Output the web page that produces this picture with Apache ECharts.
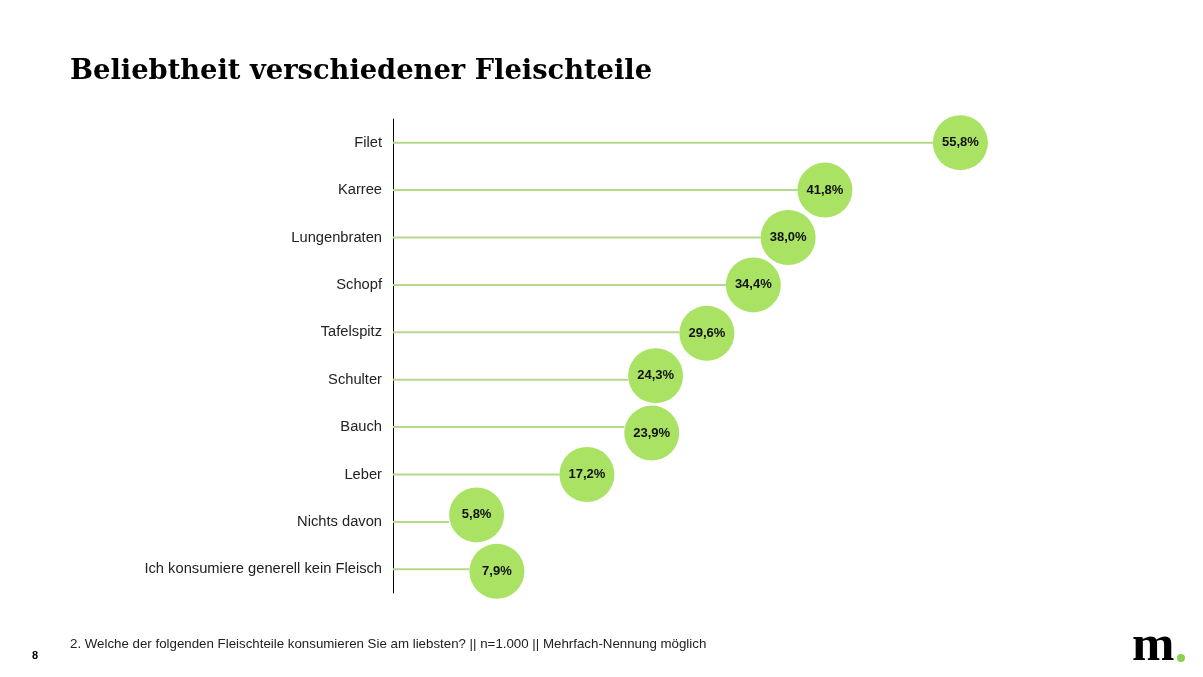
<!DOCTYPE html>
<html><head><meta charset="utf-8">
<script src="https://cdn.jsdelivr.net/npm/echarts@6/dist/echarts.min.js"></script>
<style>html,body{margin:0;padding:0;background:#fff}#c{width:1203px;height:677px}</style>
</head><body><div id="c"></div>
<script>
const categories = ['Filet','Karree','Lungenbraten','Schopf','Tafelspitz','Schulter','Bauch','Leber','Nichts davon','Ich konsumiere generell kein Fleisch'];
const values = [55.8, 41.8, 38.0, 34.4, 29.6, 24.3, 23.9, 17.2, 5.8, 7.9];
const bubbleShiftY = [0, 0, 0, 0, 1, -4, 6, 0, -7, 2];

const chart = echarts.init(document.getElementById('c'), null, {renderer:'canvas'});
const fmt = v => v.toFixed(1).replace('.', ',') + '%';
chart.setOption({
  animation:false,
  grid:{left:393, top:119, width:774, height:474},
  xAxis:{type:'value', min:0, max:80, show:false},
  yAxis:{type:'category', data:categories, inverse:true,
    axisLine:{show:true, lineStyle:{color:'#000', width:1}},
    axisTick:{show:false},
    axisLabel:{color:'#222', fontFamily:'Liberation Sans, Arial', fontSize:14.7, margin:11},
    splitLine:{show:false}},
  series:[
    {type:'bar', data:values, barWidth:2, itemStyle:{color:'#b4d98a'}, silent:true},
    {type:'scatter', data:values.map((v,i)=>({value:[v,categories[i]], symbolOffset:[27.5, bubbleShiftY[i]]})),
      symbolSize:55, itemStyle:{color:'#aae264', opacity:1},
      label:{show:true, position:'inside', formatter:p=>fmt(p.value[0]), color:'#111', fontWeight:'bold',
        fontFamily:'Liberation Sans, Arial', fontSize:13}, z:5}
  ],
  graphic:[
    {type:'text', left:70, top:58, style:{text:'Beliebtheit verschiedener Fleischteile', font:'bold 27.3px "DejaVu Serif", Georgia, serif', fill:'#000'}},
    {type:'text', left:70, top:638, style:{text:'2. Welche der folgenden Fleischteile konsumieren Sie am liebsten? || n=1.000 || Mehrfach-Nennung möglich', font:'13.3px "Liberation Sans", Arial', fill:'#222'}},
    {type:'text', left:32, top:650, style:{text:'8', font:'bold 11px "Liberation Sans", Arial', fill:'#000'}},
    {type:'text', left:1132, top:621, style:{text:'m', font:'bold 51px "Liberation Serif", Georgia, serif', fill:'#000'}},
    {type:'circle', shape:{cx:1181, cy:658, r:4}, style:{fill:'#8fd14f'}}
  ]
});
</script></body></html>
